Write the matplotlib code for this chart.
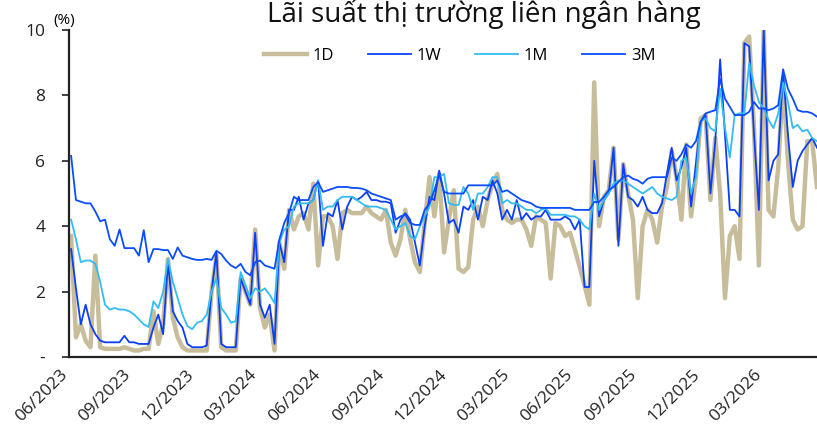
import numpy as np
import pandas as pd
import matplotlib
matplotlib.use("Agg")
import matplotlib.pyplot as plt
import matplotlib.dates as mdates

plt.rcParams['font.family'] = ['Open Sans', 'DejaVu Sans']

# weekly observations
dates = pd.date_range('2023-06-02', periods=155, freq='7D')

r_1d = [3.7, 0.6, 1.0, 0.5, 0.3, 3.1, 0.3, 0.25, 0.25, 0.25,
        0.25, 0.3, 0.25, 0.2, 0.2, 0.25, 0.25, 1.4, 0.4, 1.0,
        3.0, 1.2, 0.6, 0.3, 0.2, 0.2, 0.2, 0.2, 0.2, 2.0,
        3.1, 0.3, 0.2, 0.2, 0.2, 2.4, 2.0, 1.6, 3.9, 1.5,
        0.9, 1.3, 0.2, 3.5, 2.7, 4.5, 3.9, 4.3, 4.4, 3.9,
        5.3, 2.8, 4.3, 4.3, 4.0, 3.0, 4.4, 4.5, 4.4, 4.4,
        4.4, 4.6, 4.4, 4.3, 4.2, 4.5, 3.5, 3.1, 3.6, 4.5,
        3.6, 2.9, 2.6, 4.1, 5.5, 4.3, 5.6, 3.2, 4.2, 5.1,
        2.7, 2.6, 2.75, 4.2, 4.6, 4.0, 4.8, 5.3, 5.6, 4.5,
        4.2, 4.1, 4.2, 4.2, 3.9, 3.4, 4.3, 4.2, 4.1, 2.4,
        4.1, 4.0, 3.7, 3.8, 3.3, 2.75, 2.2, 1.6, 8.4, 4.0,
        4.9, 5.1, 6.4, 3.6, 5.9, 5.0, 4.2, 1.8, 4.0, 4.5,
        4.2, 3.5, 4.6, 5.2, 6.3, 5.5, 4.2, 6.5, 4.3, 5.5,
        7.3, 7.4, 4.8, 6.7, 5.0, 1.8, 3.7, 4.0, 3.0, 9.6,
        9.8, 7.0, 2.8, 10.0, 4.5, 4.3, 5.8, 8.5, 6.0, 4.2,
        3.9, 4.0, 6.6, 6.6, 5.2]

r_1w = [3.3, 2.1, 1.0, 1.6, 1.0, 0.7, 0.5, 0.45, 0.45, 0.45,
        0.45, 0.65, 0.45, 0.45, 0.4, 0.4, 0.4, 0.9, 1.3, 0.7,
        2.9, 1.4, 1.1, 0.9, 0.4, 0.3, 0.3, 0.3, 0.35, 2.0,
        3.2, 0.4, 0.3, 0.3, 0.3, 2.4, 2.0, 1.6, 3.8, 1.6,
        1.2, 1.6, 0.4, 3.5, 2.9, 4.5, 4.5, 4.9, 4.2, 4.7,
        4.8, 5.4, 3.4, 4.4, 4.3, 4.8, 3.9, 4.6, 4.9, 4.8,
        4.9, 5.05, 4.8, 4.8, 4.75, 4.75, 4.7, 3.8, 4.2, 4.4,
        4.2, 3.5, 2.8, 4.0, 4.9, 4.8, 5.7, 5.0, 4.1, 4.2,
        3.8, 4.6, 4.5, 4.8, 4.2, 4.9, 4.8, 5.4, 5.0, 4.2,
        4.5, 4.2, 4.8, 4.2, 4.4, 4.2, 4.3, 4.3, 4.5, 4.2,
        4.2, 4.2, 4.3, 4.2, 3.9, 4.2, 2.14, 2.14, 6.0, 4.3,
        4.8, 5.0, 6.4, 3.4, 5.9, 4.9, 4.8, 4.6, 4.9, 4.5,
        4.4, 4.4, 4.7, 5.6, 6.4, 5.4, 5.8, 6.4, 4.6, 5.9,
        7.2, 7.4, 5.0, 6.6, 9.1, 6.8, 4.5, 4.5, 4.3, 9.6,
        9.5, 6.8, 4.5, 10.0, 5.4, 6.0, 6.2, 8.7, 6.8, 5.2,
        6.0, 6.3, 6.5, 6.7, 6.4]

r_1m = [4.2, 3.6, 2.9, 2.95, 2.95, 2.85, 2.3, 1.6, 1.45, 1.5,
        1.45, 1.45, 1.4, 1.3, 1.15, 1.0, 0.92, 1.7, 1.5, 2.0,
        3.0, 2.3, 1.8, 1.3, 0.95, 0.85, 1.05, 1.1, 1.3, 2.0,
        2.4, 1.5, 1.3, 1.05, 1.1, 2.6, 2.2, 1.8, 2.1, 2.0,
        2.1, 1.9, 1.65, 3.5, 3.9, 4.0, 4.6, 4.7, 4.7, 4.7,
        4.8, 5.4, 4.5, 4.6, 4.6, 4.8, 4.9, 4.9, 4.9, 4.8,
        4.7, 4.6, 4.6, 4.6, 4.55, 4.5, 4.2, 3.9, 4.0, 4.1,
        3.7, 3.6, 4.0, 4.3, 4.6, 5.5, 5.5, 5.6, 4.7, 4.65,
        4.65, 5.2, 5.0, 4.5, 5.0, 5.0, 5.2, 5.5, 5.5, 4.7,
        4.8, 4.7, 4.7, 4.6, 4.5, 4.5, 4.4, 4.5, 4.55, 4.35,
        4.35, 4.35, 4.35, 4.3, 4.3, 4.2, 4.0, 3.9, 5.0, 4.5,
        4.8, 5.0, 5.3, 5.4, 5.4, 5.3, 5.2, 5.1, 5.0, 5.1,
        5.2, 5.0, 4.9, 4.85, 4.8, 4.9, 6.0, 6.1, 5.0, 5.5,
        7.2, 7.3, 7.0, 6.9, 8.2, 7.0, 6.1, 7.4, 7.45, 7.45,
        9.0, 8.3, 7.8, 7.6, 7.25, 7.0, 7.45, 8.4, 7.8, 7.0,
        7.1, 6.9, 6.95, 6.7, 6.6]

r_3m = [6.15, 4.8, 4.75, 4.7, 4.7, 4.45, 4.15, 4.2, 3.6, 3.4,
        3.9, 3.33, 3.33, 3.33, 3.1, 3.88, 2.9, 3.3, 3.3, 3.27,
        3.27, 3.0, 3.35, 3.1, 3.05, 3.0, 2.97, 2.97, 3.0, 2.97,
        3.25, 3.15, 2.95, 2.8, 2.72, 2.85, 2.6, 2.5, 2.9, 2.95,
        2.8, 2.75, 2.7, 3.6, 4.1, 4.4, 4.9, 4.8, 4.8, 4.8,
        5.2, 5.35, 5.05, 5.1, 5.15, 5.2, 5.2, 5.2, 5.17, 5.17,
        5.15, 5.1, 5.0, 4.95, 4.9, 4.85, 4.8, 4.2, 4.3, 4.35,
        4.1, 4.04, 4.04, 4.5, 4.7, 5.1, 5.6, 5.05, 5.0, 5.0,
        5.0, 5.0, 5.25, 5.25, 5.25, 5.25, 5.25, 5.25, 5.4, 5.05,
        5.1, 5.0, 4.9, 4.8, 4.75, 4.7, 4.6, 4.56, 4.56, 4.56,
        4.56, 4.56, 4.56, 4.56, 4.5, 4.5, 4.5, 4.5, 4.74, 4.74,
        4.9, 5.1, 5.2, 5.35, 5.5, 5.55, 5.45, 5.4, 5.3, 5.45,
        5.5, 5.5, 5.5, 5.5, 6.1, 6.0, 6.2, 6.5, 6.4, 6.6,
        7.2, 7.45, 7.5, 7.55, 8.5, 7.9, 7.65, 7.4, 7.4, 7.4,
        7.5, 7.8, 7.6, 7.6, 7.55, 7.6, 7.7, 8.8, 8.2, 7.9,
        7.55, 7.5, 7.5, 7.45, 7.35]

tick_months = ['2023-06-01', '2023-09-01', '2023-12-01', '2024-03-01',
               '2024-06-01', '2024-09-01', '2024-12-01', '2025-03-01',
               '2025-06-01', '2025-09-01', '2025-12-01', '2026-03-01']

fig = plt.figure(figsize=(8.17, 4.40), dpi=100)
ax = fig.add_axes([0.0845, 0.1886, 0.9155, 0.7432])

ax.plot(dates, r_1d, color='#c8bd9a', lw=3.2, label='1D', solid_joinstyle='round')
ax.plot(dates, r_1w, color='#0b3ff5', lw=1.3, label='1W')
ax.plot(dates, r_1m, color='#33bcf2', lw=1.3, label='1M')
ax.plot(dates, r_3m, color='#0a4cff', lw=1.3, label='3M')

ax.set_xlim(pd.Timestamp('2023-05-30'), dates[-1])
ax.set_ylim(0, 10)
ax.set_yticks([0, 2, 4, 6, 8, 10])
ax.set_yticklabels(['-', '2', '4', '6', '8', '10'])
ax.set_xticks(pd.to_datetime(tick_months))
ax.xaxis.set_major_formatter(mdates.DateFormatter('%m/%Y'))
plt.setp(ax.get_xticklabels(), rotation=45, ha='right', va='top')

ax.tick_params(axis='y', length=5, width=1.2, pad=12, labelsize=12.5, colors='#222222')
ax.tick_params(axis='x', length=0, pad=7, labelsize=12.5, colors='#222222')
for s in ['top', 'right']:
    ax.spines[s].set_visible(False)
for s in ['left', 'bottom']:
    ax.spines[s].set_linewidth(1.6)
    ax.spines[s].set_color('#222222')

ax.text(-0.006, 1.005, '(%)', transform=ax.transAxes, fontsize=11, ha='center', va='bottom')

leg = ax.legend(loc='center', bbox_to_anchor=(0.522, 0.92), ncol=4, frameon=False,
                fontsize=12, handlelength=2.6, handletextpad=0.35, columnspacing=2.0)

fig.text(0.592, 0.95, 'Lãi suất thị trường liên ngân hàng', ha='center', va='baseline',
         fontsize=20, color='#111111')

fig.savefig('out.png', dpi=100)
